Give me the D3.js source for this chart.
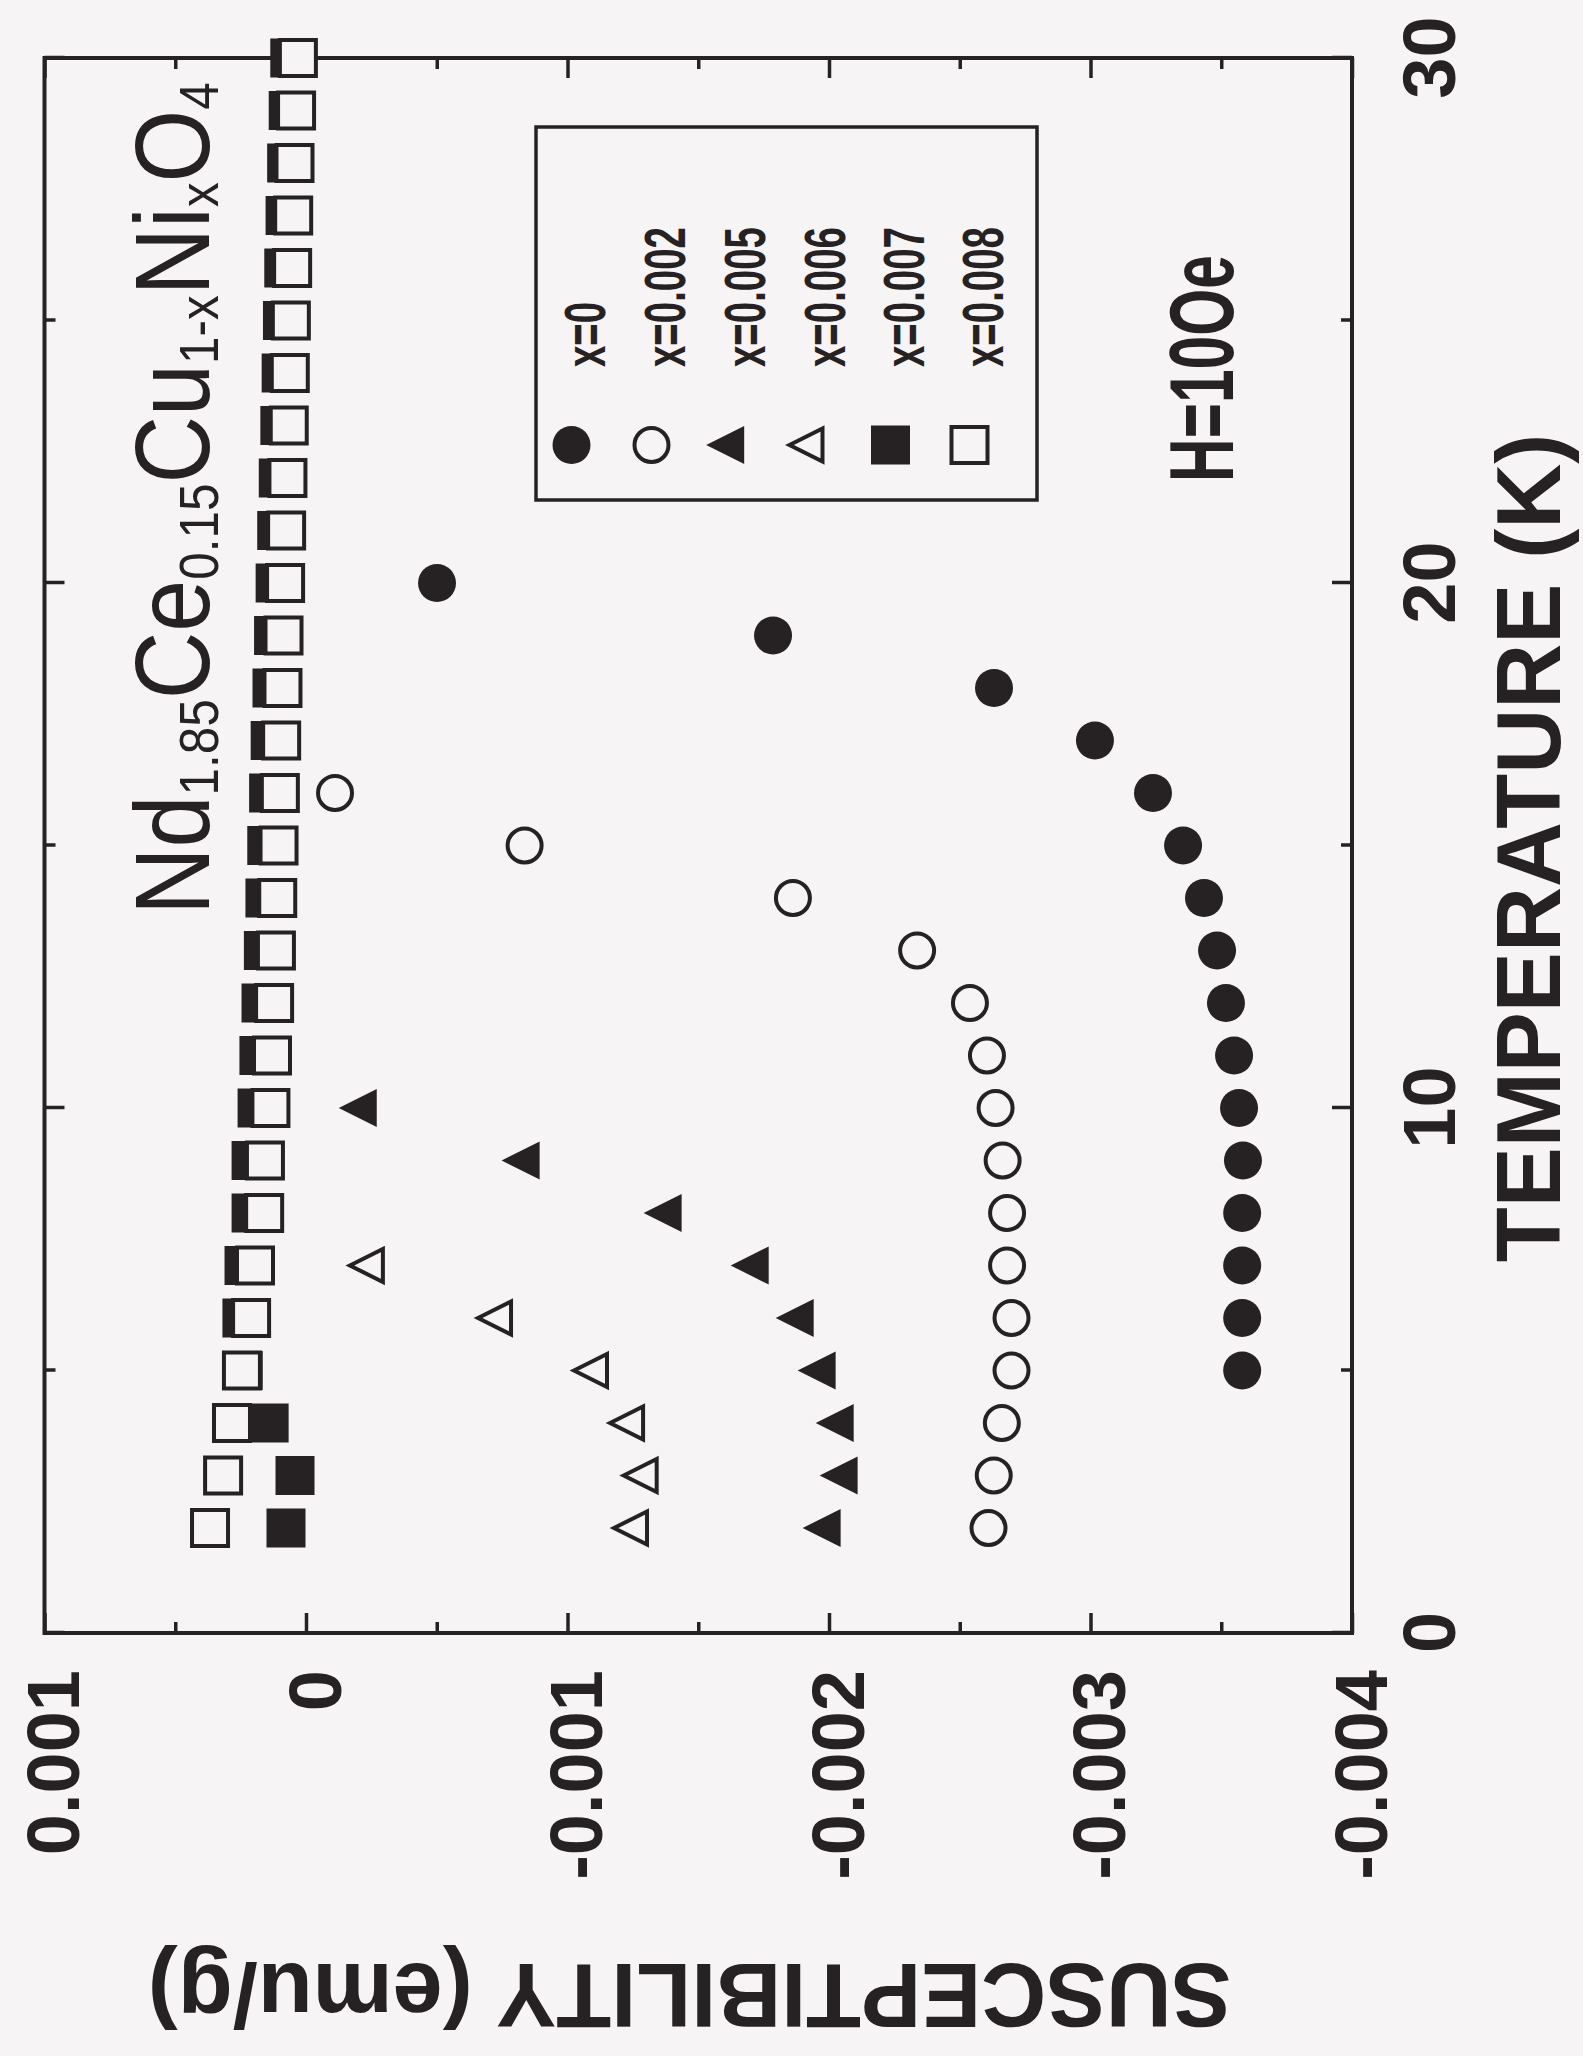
<!DOCTYPE html>
<html><head><meta charset="utf-8">
<script src="https://cdn.jsdelivr.net/npm/d3@7"></script>
<style>
html,body{margin:0;padding:0;background:#f6f4f4;}
svg{display:block;}
text{font-family:"Liberation Sans",Arial,Helvetica,sans-serif;}
</style></head><body>
<svg id="chart" width="1583" height="2056"></svg>
<script>
// ---------- data ----------
const tempsX0   = [5,6,7,8,9,10,11,12,13,14,15,16,17,18,19,20];
const chiX0     = [-0.00358,-0.00358,-0.00358,-0.00358,-0.003583,-0.003568,-0.003549,-0.003518,-0.003484,-0.003434,-0.003354,-0.003239,-0.003017,-0.002631,-0.001786,-0.000501];
const tempsX002 = [2,3,4,5,6,7,8,9,10,11,12,13,14,15,16];
const chiX002   = [-0.00261,-0.00263,-0.002661,-0.002698,-0.002698,-0.002681,-0.002681,-0.002664,-0.002637,-0.002604,-0.002539,-0.002337,-0.001862,-0.000836,-0.000111];
const tempsX005 = [2,3,4,5,6,7,8,9,10];
const chiX005   = [-0.001996,-0.002061,-0.002046,-0.001977,-0.001893,-0.001721,-0.001388,-0.000845,-0.000222];
const tempsX006 = [2,3,4,5,6,7];
const chiX006   = [-0.001262,-0.001299,-0.001247,-0.001109,-0.000742,-0.000252];
const tempsX007 = [2,3,4,5,6,7,8,9,10,11,12,13,14,15,16,17,18,19,20,21,22,23,24,25,26,27,28,29,30];
const chiX007   = [0.0000765,0.000042,0.000141,0.00024,0.000245,0.000237,0.00021,0.00021,0.000187,0.00018,0.000172,0.000163,0.000157,0.00015,0.000143,0.000137,0.00013,0.000124,0.000118,0.000112,0.000106,0.0001,0.000095,0.00009,0.000085,0.00008,0.000074,0.000068,0.000062];
const tempsX008 = [2,3,4,5,6,7,8,9,10,11,12,13,14,15,16,17,18,19,20,21,22,23,24,25,26,27,28,29,30];
const chiX008   = [0.000367,0.000317,0.000283,0.000245,0.00021,0.000195,0.00016,0.000157,0.000136,0.00013,0.000122,0.000115,0.00011,0.000105,0.0001,0.000095,0.00009,0.000086,0.00008,0.000076,0.000071,0.000066,0.000062,0.000058,0.000053,0.000049,0.000044,0.000038,0.000031];

const seriesLabels = ["x=0","x=0.002","x=0.005","x=0.006","x=0.007","x=0.008"];
const tempMajorTicks = [0,10,20,30];
const tempMinorTicks = [5,15,25];
const tempTickLabels = ["0","10","20","30"];
const chiMajorTicks = [0.001,0,-0.001,-0.002,-0.003,-0.004];
const chiMinorTicks = [0.0005,-0.0005,-0.0015,-0.0025,-0.0035];
const chiTickLabels = ["0.001","0","-0.001","-0.002","-0.003","-0.004"];
const titleParts = [["Nd",0],["1.85",1],["Ce",0],["0.15",1],["Cu",0],["1-x",1],["Ni",0],["x",1],["O",0],["4",1]];
const xTitle = "TEMPERATURE (K)";
const yTitle = "SUSCEPTIBILITY (emu/g)";
const fieldText = "H=10Oe";

// ---------- layout ----------
const ink = "#262223", paper = "#f6f4f4";
const W = 1575, H = 1307.5;
const svg = d3.select("#chart");
svg.append("rect").attr("width",1583).attr("height",2056).attr("fill",paper);
// the figure is drawn in its natural orientation and turned 90 degrees counter-clockwise
const g = svg.append("g").attr("transform","translate(44.5,1633) rotate(-90)");

const x = d3.scaleLinear().domain([0,30]).range([0,W]);
const y = d3.scaleLinear().domain([0.001,-0.004]).range([0,H]);

function styleAxis(sel){
  sel.select(".domain").remove();
  sel.attr("color",ink).attr("font-family","Liberation Sans, Arial, sans-serif").attr("font-size",74).attr("font-weight","bold");
  sel.selectAll(".tick line").attr("stroke-width",3.5);
}
const tLab = new Map(tempMajorTicks.map((d,i)=>[d,tempTickLabels[i]]));
const cLab = new Map(chiMajorTicks.map((d,i)=>[d,chiTickLabels[i]]));

// bottom (temperature)
g.append("g").attr("transform",`translate(0,${H})`)
  .call(d3.axisBottom(x).tickValues(tempMajorTicks).tickSizeInner(-20).tickSizeOuter(0).tickPadding(50).tickFormat(d=>tLab.get(d)))
  .call(styleAxis);
g.append("g").attr("transform",`translate(0,${H})`)
  .call(d3.axisBottom(x).tickValues(tempMinorTicks).tickSizeInner(-11).tickSizeOuter(0).tickFormat(""))
  .call(styleAxis);
// top mirror
g.append("g").call(d3.axisTop(x).tickValues(tempMajorTicks).tickSizeInner(-20).tickSizeOuter(0).tickFormat("")).call(styleAxis);
g.append("g").call(d3.axisTop(x).tickValues(tempMinorTicks).tickSizeInner(-11).tickSizeOuter(0).tickFormat("")).call(styleAxis);
// left (susceptibility)
const la = g.append("g")
  .call(d3.axisLeft(y).tickValues(chiMajorTicks).tickSizeInner(-20).tickSizeOuter(0).tickPadding(37).tickFormat(d=>cLab.get(d)))
  .call(styleAxis);
la.selectAll(".tick text").attr("dy","0.46em");
g.append("g").call(d3.axisLeft(y).tickValues(chiMinorTicks).tickSizeInner(-11).tickSizeOuter(0).tickFormat("")).call(styleAxis);
// right mirror
g.append("g").attr("transform",`translate(${W},0)`).call(d3.axisRight(y).tickValues(chiMajorTicks).tickSizeInner(-20).tickSizeOuter(0).tickFormat("")).call(styleAxis);
g.append("g").attr("transform",`translate(${W},0)`).call(d3.axisRight(y).tickValues(chiMinorTicks).tickSizeInner(-11).tickSizeOuter(0).tickFormat("")).call(styleAxis);

// frame
g.append("rect").attr("x",0).attr("y",0).attr("width",W).attr("height",H)
  .attr("fill","none").attr("stroke",ink).attr("stroke-width",4);

// ---------- markers ----------
const triangle = { draw(ctx,size){ const s=Math.sqrt(size); ctx.moveTo(0,-2*s/3); ctx.lineTo(s/2,s/3); ctx.lineTo(-s/2,s/3); ctx.closePath(); } };
const markerDefs = [
  {type:d3.symbolCircle, size:Math.PI*19*19, filled:true},
  {type:d3.symbolCircle, size:Math.PI*17*17, filled:false},
  {type:triangle, size:38*38, filled:true},
  {type:triangle, size:33*33, filled:false},
  {type:d3.symbolSquare, size:39*39, filled:true},
  {type:d3.symbolSquare, size:36*36, filled:false}
];
function styleMarker(sel,m){
  sel.attr("d",d3.symbol().type(m.type).size(m.size)())
     .attr("fill",m.filled?ink:paper)
     .attr("stroke",m.filled?"none":ink)
     .attr("stroke-width",m.filled?0:4)
     .attr("stroke-linejoin","miter");
}
const series = [
  {t:tempsX0,c:chiX0},{t:tempsX002,c:chiX002},{t:tempsX005,c:chiX005},
  {t:tempsX006,c:chiX006},{t:tempsX007,c:chiX007},{t:tempsX008,c:chiX008}
];
series.forEach((s,k)=>{
  const pts = s.t.map((t,i)=>({t:t,c:s.c[i]}));
  g.append("g").selectAll("path").data(pts).join("path")
    .attr("transform",d=>`translate(${x(d.t)},${y(d.c)})`)
    .call(sel=>styleMarker(sel,markerDefs[k]));
});

// ---------- legend ----------
const lg = g.append("g");
lg.append("rect").attr("x",1133).attr("y",491.5).attr("width",373).attr("height",501)
  .attr("fill","none").attr("stroke",ink).attr("stroke-width",3.5);
const rowY = [527,607,687,767,846,925];
let legendScale = null;
const legendTexts = [];
seriesLabels.forEach((lab,k)=>{
  lg.append("path").attr("transform",`translate(1188,${rowY[k]})`).call(sel=>styleMarker(sel,markerDefs[k]));
  const tg = lg.append("g");
  const tx = tg.append("text").attr("font-size",58).attr("font-weight","bold").attr("fill",ink).text(lab);
  if(legendScale===null && lab.length>3){ legendScale = 140/tx.node().getComputedTextLength(); }
  legendTexts.push({g:tg,k:k});
});
legendTexts.forEach(o=>o.g.attr("transform",`translate(1266,${rowY[o.k]+33}) scale(${legendScale},1)`));

// field label
const hg = g.append("g");
const ht = hg.append("text").attr("font-size",90).attr("font-weight","bold").attr("fill",ink).text(fieldText);
hg.attr("transform",`translate(1151,1188) scale(${227/ht.node().getComputedTextLength()},1)`);

// title
const tgp = g.append("g");
const tt = tgp.append("text").attr("fill",ink).attr("font-size",106);
let prevSub = 0;
titleParts.forEach(([s,sub])=>{
  const sp = tt.append("tspan").text(s).attr("font-size",sub?56:106);
  if(sub!==prevSub) sp.attr("dy",sub?9:-9);
  prevSub = sub;
});
tgp.attr("transform",`translate(718,164) scale(${833/tt.node().getComputedTextLength()},1)`);

// axis titles
g.append("text").attr("x",785).attr("y",H+208).attr("text-anchor","middle")
  .attr("font-size",90).attr("font-weight","bold").attr("fill",ink).text(xTitle);
g.append("text").attr("transform","translate(-331,645) rotate(-90)").attr("text-anchor","middle")
  .attr("font-size",90).attr("font-weight","bold").attr("fill",ink).text(yTitle);
</script>
</body></html>
